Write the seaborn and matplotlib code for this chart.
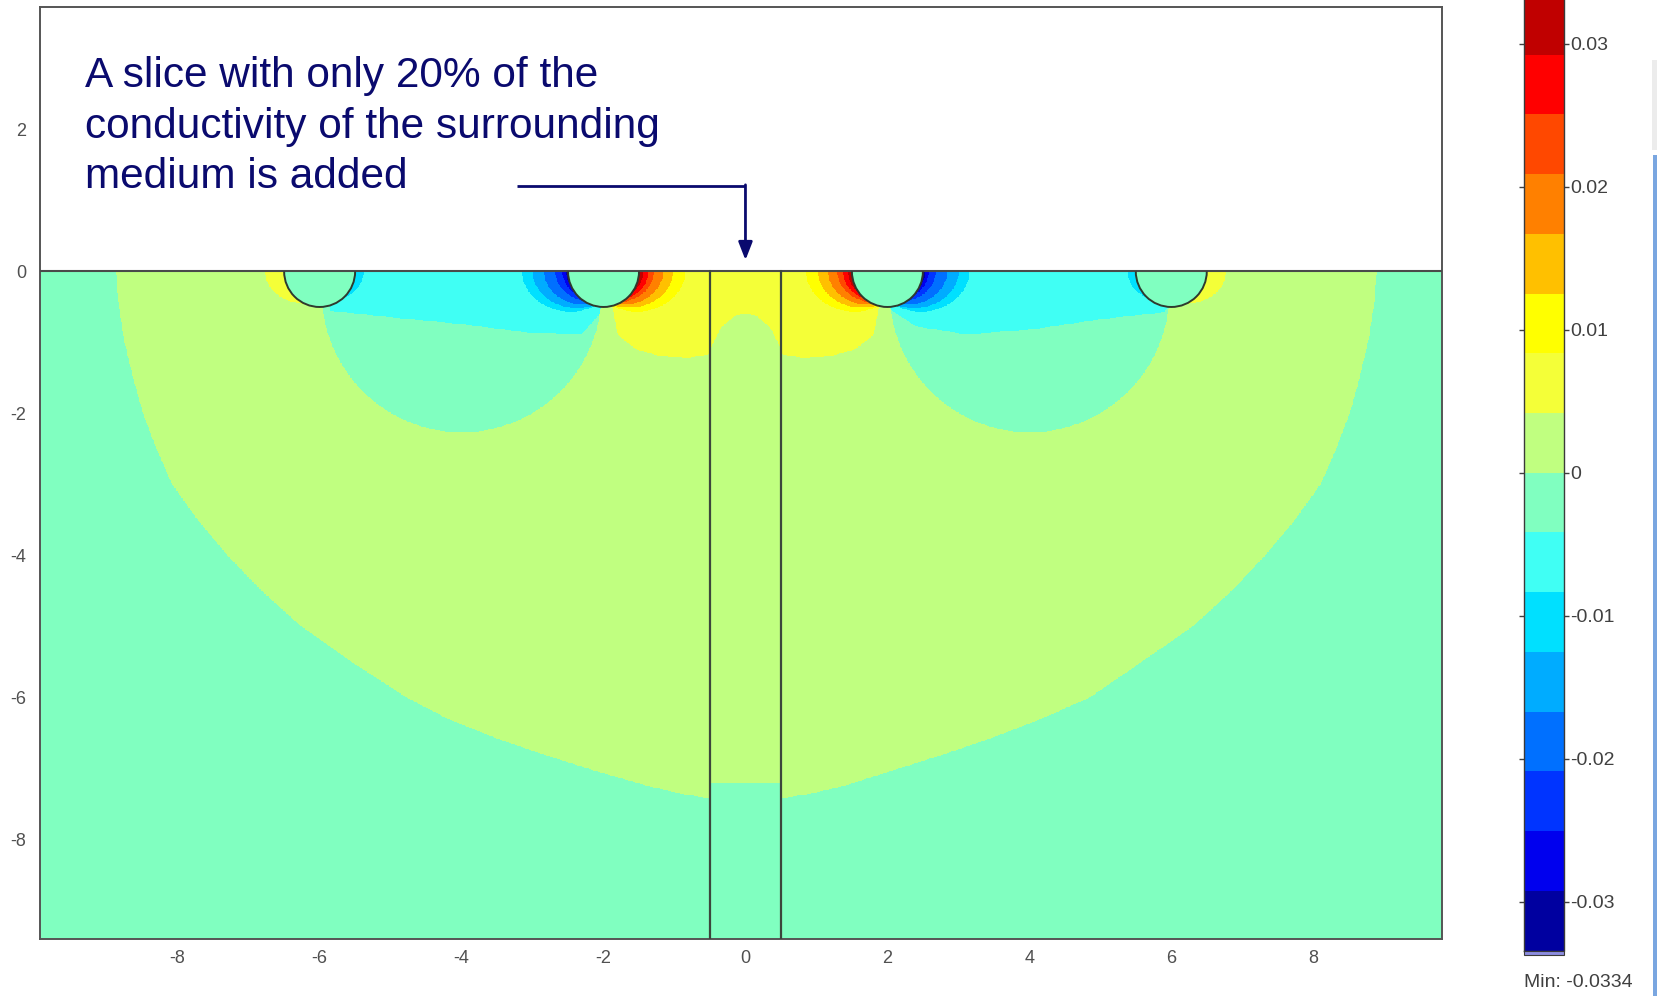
import numpy as np
import matplotlib
matplotlib.use("Agg")
import matplotlib.pyplot as plt
import seaborn as sns
from matplotlib.colors import ListedColormap, BoundaryNorm
from matplotlib.path import Path
from matplotlib.patches import Arc, Rectangle
import matplotlib.cm as cm

# ---------------- data ----------------
v_min, v_max = -0.0334, 0.0334
level_colors = ['#0000A0', '#0000EE', '#0034FF', '#0070FF', '#00ACFF', '#00E0FF',
                '#40FFF4', '#80FFC0', '#C0FF80', '#F4FF38', '#FFFF00', '#FFC000',
                '#FF8000', '#FF4800', '#FF0000', '#C00000']
cbar_ticks = [-0.03, -0.02, -0.01, 0.0, 0.01, 0.02, 0.03]
cbar_ticklabels = ["-0.03", "-0.02", "-0.01", "0", "0.01", "0.02", "0.03"]
x_ticks = [-8, -6, -4, -2, 0, 2, 4, 6, 8]
y_ticks = [2, 0, -2, -4, -6, -8]
x_limits = [-9.94, 9.81]
y_limits = [-9.40, 3.72]

electrode_x = [-6, -2, 2, 6]
electrode_r = 0.5
slice_edges = [-0.5, 0.5]

background_level = 7

# large positive zone (outer boundary)
outer_zone_x = [-8.87, -8.83, -8.75, -8.63, -8.49, -8.30, -8.08, -7.72, -7.30, -6.82, -6.26,
                -5.55, -4.78, -4.20, -3.50, -2.80, -2.10, -1.40, -0.90, -0.50,
                -0.50, 0.50,
                0.50, 0.90, 1.40, 2.10, 2.80, 3.50, 4.22, 4.85, 5.58, 6.30, 6.85, 7.32,
                7.74, 8.10, 8.32, 8.51, 8.65, 8.77, 8.85, 8.89]
outer_zone_y = [0.00, -0.50, -1.00, -1.50, -2.00, -2.50, -3.00, -3.50, -4.00, -4.50, -5.00,
                -5.50, -6.00, -6.30, -6.58, -6.82, -7.04, -7.24, -7.36, -7.42,
                -7.20, -7.20,
                -7.42, -7.36, -7.24, -7.02, -6.80, -6.56, -6.28, -6.00, -5.50, -5.00, -4.50, -4.00,
                -3.50, -3.00, -2.50, -2.00, -1.50, -1.00, -0.50, 0.00]
outer_zone_level = 8

# near-zero round zones between electrode pairs
inner_zone_cx = [-4.0, 4.0]
inner_zone_cy = [-0.30, -0.30]
inner_zone_r = [1.97, 1.97]
inner_zone_level = 7

# negative zones just under the surface between electrode pairs
neg_left_x = [-6.00, -5.90, -5.85, -4.92, -3.98, -3.04, -2.30, -2.05, -2.00]
neg_left_y = [0.00, -0.40, -0.56, -0.66, -0.75, -0.87, -0.88, -0.60, 0.00]
neg_right_x = [2.00, 2.05, 2.40, 3.11, 4.05, 5.00, 5.90, 6.00, 6.00]
neg_right_y = [0.00, -0.55, -0.78, -0.89, -0.82, -0.68, -0.58, -0.40, 0.00]
neg_zone_level = 6

# positive zones round the slice
pos_left_x = [-1.90, -1.88, -1.80, -1.55, -1.20, -0.80, -0.50, -0.50]
pos_left_y = [0.00, -0.50, -0.90, -1.10, -1.20, -1.22, -1.17, 0.00]
pos_right_x = [0.50, 0.50, 0.80, 1.20, 1.55, 1.80, 1.88, 1.90]
pos_right_y = [0.00, -1.17, -1.22, -1.20, -1.10, -0.90, -0.50, 0.00]
pos_slice_x = [-0.50, -0.50, -0.35, -0.15, 0.00, 0.15, 0.35, 0.50, 0.50]
pos_slice_y = [0.00, -1.10, -0.80, -0.63, -0.60, -0.63, -0.80, -1.10, 0.00]
pos_zone_level = 9

# crescents hugging each electrode: side (-1 left, +1 right), levels and surface reach
crescent_electrode = [-6, -6, -2, -2, 2, 2, 6, 6]
crescent_side = [-1, 1, -1, 1, -1, 1, -1, 1]
crescent_levels = [[9], [5], [5, 4, 3, 2, 1, 0], [10, 11, 12, 13, 14, 15],
                   [10, 11, 12, 13, 14, 15], [5, 4, 3, 2, 1, 0], [5], [9]]
crescent_reach = [[0.77], [0.62], [1.15, 1.00, 0.84, 0.68, 0.58, 0.53],
                  [1.15, 0.98, 0.84, 0.71, 0.63, 0.56],
                  [1.15, 0.98, 0.84, 0.71, 0.63, 0.56],
                  [1.15, 1.00, 0.84, 0.68, 0.58, 0.53], [0.62], [0.77]]
crescent_flatten = 1.2

annotation_lines = ["A slice with only 20% of the",
                    "conductivity of the surrounding",
                    "medium is added"]
min_label = "Min: -0.0334"

# ---------------- style ----------------
sns.set_theme(style="white")
plt.rcParams['font.family'] = ['Liberation Sans', 'DejaVu Sans']
plt.rcParams['axes.unicode_minus'] = False

n_lev = len(level_colors)
bounds = np.linspace(v_min, v_max, n_lev + 1)
cmap = ListedColormap(level_colors)
norm = BoundaryNorm(bounds, n_lev)
step = (v_max - v_min) / n_lev


def level_value(L):
    return v_min + (L + 0.5) * step


# ---------------- rasterise the zones ----------------
h = 0.01
xs = np.arange(x_limits[0], x_limits[1], h) + h / 2
ys = np.arange(y_limits[0], 0.0, h) + h / 2
X, Y = np.meshgrid(xs, ys)
pts = np.column_stack([X.ravel(), Y.ravel()])
Z = np.full(X.shape, level_value(background_level))


def paint_poly(px, py, L):
    path = Path(np.column_stack([px, py]))
    m = path.contains_points(pts).reshape(X.shape)
    Z[m] = level_value(L)


paint_poly(outer_zone_x, outer_zone_y, outer_zone_level)
for cx, cy, r in zip(inner_zone_cx, inner_zone_cy, inner_zone_r):
    Z[(X - cx) ** 2 + (Y - cy) ** 2 <= r ** 2] = level_value(inner_zone_level)
paint_poly(neg_left_x, neg_left_y, neg_zone_level)
paint_poly(neg_right_x, neg_right_y, neg_zone_level)
paint_poly(pos_left_x, pos_left_y, pos_zone_level)
paint_poly(pos_right_x, pos_right_y, pos_zone_level)
paint_poly(pos_slice_x, pos_slice_y, pos_zone_level)

for xc, side, levs, reaches in zip(crescent_electrode, crescent_side, crescent_levels, crescent_reach):
    for L, reach in zip(levs, reaches):
        d = (reach ** 2 - electrode_r ** 2) / (2 * reach)
        rho = reach - d
        ccx = xc + side * d
        m = (side * (X - xc) >= 0) & ((X - ccx) ** 2 + (crescent_flatten * Y) ** 2 <= rho ** 2)
        Z[m] = level_value(L)

for xc in electrode_x:
    Z[(X - xc) ** 2 + Y ** 2 <= electrode_r ** 2] = level_value(background_level)

# ---------------- figure ----------------
W, H = 1658, 996
fig = plt.figure(figsize=(W / 100, H / 100), dpi=100)
ax = fig.add_axes([40 / W, (H - 939) / H, (1441.7 - 40) / W, (939 - 7.3) / H])
ax.set_facecolor('white')

ax.imshow(Z, extent=(xs[0] - h / 2, xs[-1] + h / 2, ys[0] - h / 2, ys[-1] + h / 2),
          origin='lower', cmap=cmap, norm=norm, interpolation='nearest',
          interpolation_stage='rgba', aspect='auto', zorder=1)

ax.set_xlim(*x_limits)
ax.set_ylim(*y_limits)

# geometry outlines
line_col = '#3c463c'
ax.axhline(0, color='#4a4a4a', lw=1.5, zorder=3)
for xe in slice_edges:
    ax.plot([xe, xe], [y_limits[0], 0], color=line_col, lw=1.6, zorder=3)
for xc in electrode_x:
    ax.add_patch(Arc((xc, 0), 2 * electrode_r, 2 * electrode_r, theta1=180, theta2=360,
                     color='#2e3a2e', lw=1.4, zorder=4))

ax.set_xticks(x_ticks)
ax.set_xticklabels([str(t) for t in x_ticks])
ax.set_yticks(y_ticks)
ax.set_yticklabels([str(t) for t in y_ticks])
ax.tick_params(axis='both', length=0, labelsize=13, colors='#505050')
ax.tick_params(axis='x', pad=8)
ax.tick_params(axis='y', pad=10)
for sp in ax.spines.values():
    sp.set_color('#555555')
    sp.set_linewidth(1.4)

# annotation text and arrow
navy = '#0a0a6e'
baselines = [86.7, 138.0, 188.3]
for txt, yb in zip(annotation_lines, baselines):
    fig.text(85 / W, 1 - yb / H, txt, fontsize=30.5, color=navy, ha='left', va='baseline')
ax.plot([-3.22, 0.0], [1.21, 1.21], color=navy, lw=2.0, zorder=5, solid_capstyle='butt')
ax.annotate('', xy=(0.0, 0.16), xytext=(0.0, 1.22),
            arrowprops=dict(arrowstyle='-|>,head_length=0.9,head_width=0.35',
                            color=navy, lw=2.0, shrinkA=0, shrinkB=0), zorder=5)

# colour bar
cax = fig.add_axes([1524 / W, (H - 950.5) / H, 40 / W, 955.5 / H])
sm = cm.ScalarMappable(norm=norm, cmap=cmap)
cb = fig.colorbar(sm, cax=cax, ticks=cbar_ticks, spacing='proportional')
cb.ax.set_yticklabels(cbar_ticklabels)
cb.outline.set_edgecolor('#3a3a3a')
cb.outline.set_linewidth(1.0)
cax.tick_params(axis='y', which='both', direction='inout', length=7, width=1.0,
                colors='#404040', labelsize=14, pad=1, left=True, right=True,
                labelleft=False, labelright=True)
cax.minorticks_off()
fig.add_artist(Rectangle((1524 / W, (H - 955) / H), 40 / W, 4.5 / H, transform=fig.transFigure,
                         facecolor='#8c8ce0', edgecolor='#3a3a3a', lw=0.8))
fig.text(1524 / W, 1 - 982 / H, min_label, fontsize=14, color='#404040', ha='left', va='center')

# slide edge decorations
fig.add_artist(Rectangle((1653 / W, 0), 5 / W, (H - 155) / H, transform=fig.transFigure,
                         facecolor='#7aa6e0', edgecolor='none'))
fig.add_artist(Rectangle((1652 / W, (H - 150) / H), 6 / W, 90 / H, transform=fig.transFigure,
                         facecolor='#ececec', edgecolor='none'))

fig.savefig('out.png', dpi=100)
